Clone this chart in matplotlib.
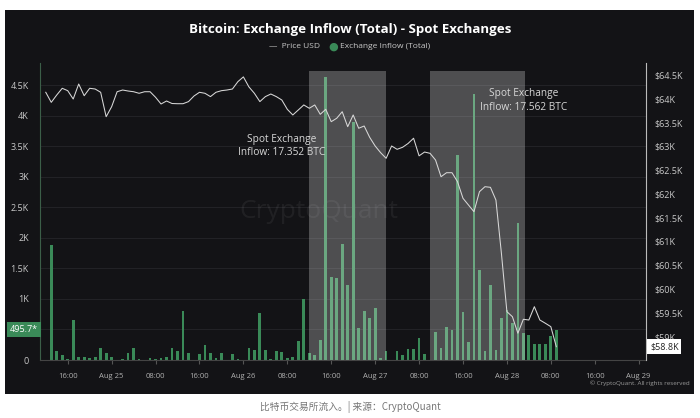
import matplotlib
matplotlib.use("Agg")
import matplotlib.pyplot as plt
import matplotlib.dates as mdates
from matplotlib.patches import Rectangle
from matplotlib.ticker import FixedLocator, FuncFormatter
import numpy as np
import pandas as pd

# hourly exchange inflow (BTC), Aug 24 13:00 -> Aug 28 09:00
inflow = [1880, 150, 80, 10, 655, 45, 50, 30, 45, 200, 110, 45, 5, 10, 110, 200, 15, 5, 40, 20, 40, 55,
          200, 150, 800, 110, 5, 95, 240, 110, 40, 110, 8, 95, 15, 5, 195, 160, 765, 165, 15, 150, 135, 30, 55, 315,
          995, 120, 80, 330, 4625, 1355, 1340, 1900, 1230, 3890, 520, 810, 680, 850, 30, 150, 5, 150, 90, 175, 180, 360, 100,
          5, 460, 190, 545, 490, 3355, 785, 290, 4355, 1475, 150, 1230, 165, 680, 820, 610, 2235, 445, 405, 260, 270, 260, 390, 496]

# hourly BTC price (K USD), Aug 24 12:00 -> Aug 28 09:00
price = [64.136, 63.925, 64.079, 64.22, 64.17, 63.995, 64.31, 64.064, 64.22, 64.205, 64.136, 63.623, 63.833, 64.148,
         64.184, 64.163, 64.148, 64.115, 64.148, 64.148, 64.031, 63.89, 63.953,
         63.90, 63.896, 63.896, 63.94, 64.058, 64.136, 64.115, 64.045, 64.136, 64.17, 64.184, 64.205, 64.36, 64.46,
         64.25, 64.115, 63.94, 64.045, 64.1, 64.045, 63.974, 63.778, 63.659, 63.764,
         63.87, 63.80, 63.87, 63.673, 63.778, 63.518, 63.59, 63.728, 63.413, 63.659, 63.38, 63.427, 63.19, 63.007,
         62.866, 62.748, 63.007, 62.937, 62.98, 63.06, 63.17, 62.80, 62.88,
         62.853, 62.712, 62.361, 62.445, 62.445, 62.256, 61.907, 61.766, 61.625, 62.046, 62.151, 62.138, 61.871,
         60.75, 59.523, 59.418, 59.07, 59.363, 59.348, 59.628, 59.348, 59.28, 59.208, 58.787]

bar_times = pd.date_range("2024-08-24 13:00", periods=len(inflow), freq="h")
price_times = pd.date_range("2024-08-24 12:00", periods=len(price), freq="h")

spans = [("2024-08-26 12:00", "2024-08-27 02:00"), ("2024-08-27 10:00", "2024-08-28 03:15")]
span_labels = ["Spot Exchange\nInflow: 17.352 BTC", "Spot Exchange\nInflow: 17.562 BTC"]
span_label_pos = [("2024-08-26 07:00", 3500), ("2024-08-28 03:00", 4250)]

left_ticks = np.arange(0, 4501, 500)
left_labels = ["0", "", "1K", "1.5K", "2K", "2.5K", "3K", "3.5K", "4K", "4.5K"]
right_ticks = np.arange(59.0, 64.51, 0.5)

bg = "#131316"
green = "#3a8a58"
txt = "#c8c8c8"

plt.rcParams["font.family"] = ["Open Sans", "DejaVu Sans"]

fig = plt.figure(figsize=(7.0, 4.18), dpi=100)
fig.patch.set_facecolor("white")
fig.patches.append(Rectangle((5 / 700, 1 - 394 / 418), 689 / 700, 384 / 418,
                             transform=fig.transFigure, facecolor=bg, edgecolor="none", zorder=-5))

ax = fig.add_axes([40 / 700, 58 / 418, 605.7 / 700, 297 / 418])
ax.set_facecolor(bg)

ax.bar(bar_times, inflow, width=0.5 / 24, color=green, zorder=2)
for (a, b) in spans:
    x0 = mdates.date2num(pd.Timestamp(a))
    x1 = mdates.date2num(pd.Timestamp(b))
    ax.add_patch(Rectangle((x0, 0), x1 - x0, 4735, facecolor="white", alpha=0.25,
                           edgecolor="none", zorder=3))
for lab, (t, yv) in zip(span_labels, span_label_pos):
    ax.text(pd.Timestamp(t), yv, lab, color="#d8d8d8", fontsize=7.3, ha="center", va="center",
            linespacing=1.3, zorder=5)

ax.text(0.46, 0.5, "CryptoQuant", transform=ax.transAxes, color="#ffffff", alpha=0.06,
        fontsize=19, ha="center", va="center", zorder=1)

ax.set_ylim(0, 4861)
ax.set_xlim(pd.Timestamp("2024-08-24 10:57"), pd.Timestamp("2024-08-29 01:17"))
ax.yaxis.set_major_locator(FixedLocator(left_ticks))
ax.set_yticklabels(left_labels)
ax.grid(axis="y", color="#222226", linewidth=0.8, zorder=0)
ax.set_axisbelow(True)

xt = pd.date_range("2024-08-24 16:00", "2024-08-29 00:00", freq="8h")
ax.xaxis.set_major_locator(FixedLocator(mdates.date2num(xt)))
ax.xaxis.set_major_formatter(FuncFormatter(
    lambda v, p: mdates.num2date(v).strftime("%b %d") if mdates.num2date(v).hour == 0
    else mdates.num2date(v).strftime("%H:%M")))
ax.tick_params(axis="x", colors="#555555", labelcolor="#b0b0b0", labelsize=5.5, length=3, pad=6)
ax.tick_params(axis="y", length=0, labelcolor=txt, labelsize=6.5, pad=8)

for s in ["top", "right"]:
    ax.spines[s].set_visible(False)
ax.spines["left"].set_color("#3b5e48")
ax.spines["bottom"].set_color("#444444")

ax2 = ax.twinx()
ax2.plot(price_times, price, color="#d8d8d8", linewidth=0.75, zorder=4)
ax2.set_ylim(58.507, 64.752)
ax2.yaxis.set_major_locator(FixedLocator(right_ticks))
ax2.yaxis.set_major_formatter(FuncFormatter(lambda v, p: "$%gK" % v))
ax2.tick_params(axis="y", length=0, labelcolor=txt, labelsize=6.5, pad=6)
for s in ["top", "left", "bottom"]:
    ax2.spines[s].set_visible(False)
ax2.spines["right"].set_color("#bbbbbb")

# value boxes on the axes
ax.text(-0.003, inflow[-1], "495.7*", transform=ax.get_yaxis_transform(), ha="right", va="center",
        fontsize=6.5, color="white", zorder=6,
        bbox=dict(boxstyle="square,pad=0.35", facecolor="#3a8a58", edgecolor="none"))
ax2.text(1.007, price[-1], "$58.8K", transform=ax2.get_yaxis_transform(), ha="left", va="center",
         fontsize=6.5, color="#222222", zorder=6,
         bbox=dict(boxstyle="square,pad=0.3", facecolor="white", edgecolor="none"))

fig.text(0.5, 1 - 30 / 418, "Bitcoin: Exchange Inflow (Total) - Spot Exchanges", ha="center", va="center",
         color="white", fontsize=9.6, fontweight="bold")
fig.text(320 / 700, 1 - 47 / 418, "—  Price USD", ha="right", va="center", color=txt, fontsize=6)
fig.text(340 / 700, 1 - 47 / 418, "Exchange Inflow (Total)", ha="left", va="center", color=txt, fontsize=6)
fig.text(333 / 700, 1 - 47 / 418, "●", ha="center", va="center", color="#3a8a58", fontsize=8)
fig.text(690 / 700, 1 - 383 / 418, "© CryptoQuant. All rights reserved", ha="right", va="center",
         color="#999999", fontsize=4.5)
fig.text(0.5, 1 - 407 / 418, "比特币交易所流入。| 来源：CryptoQuant", ha="center", va="center",
         color="#777777", fontsize=7, family=["Noto Sans CJK SC", "DejaVu Sans"])

fig.savefig("out.png", dpi=100, facecolor=fig.get_facecolor())
